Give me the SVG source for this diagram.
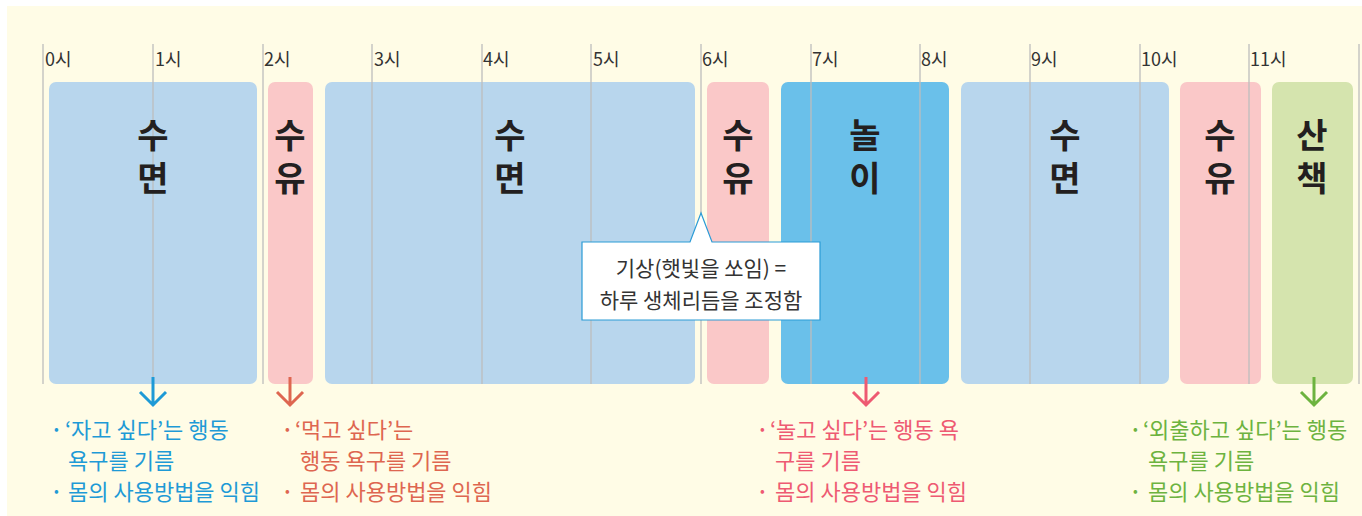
<svg xmlns="http://www.w3.org/2000/svg" width="1362" height="516" viewBox="0 0 1362 516">
<style>
.bg{fill:#FFFCE6}
.grid line{stroke:#BDBDBD;stroke-width:1.3}
.hour{font-family:"Noto Sans CJK KR","Noto Sans",sans-serif;font-size:18px;fill:#333}
.sleep{fill:#B8D6ED}
.feed{fill:#FAC8C8}
.play{fill:#6AC0EA}
.walk{fill:#D5E4AE}
.big{font-family:"Noto Sans CJK KR",sans-serif;font-size:34px;font-weight:700;fill:#231F20;text-anchor:middle}
.note{font-family:"Noto Sans CJK KR",sans-serif;font-size:22px}
.bul{font-family:"Noto Sans CJK KR",sans-serif;font-size:14px}
.call{font-family:"Noto Sans CJK KR",sans-serif;font-size:21px;fill:#333;text-anchor:middle}
.arr{fill:none;stroke-width:3;stroke-linecap:butt;stroke-linejoin:miter}
.c-blue{fill:#1E9AD6}
.c-red{fill:#DE6650}
.c-pink{fill:#EE5A72}
.c-green{fill:#6DB33F}
</style>
<rect class="bg" x="7" y="6" width="1355" height="510"/>

<g id="blocks">
<g id="sleep1"><rect class="sleep" x="49" y="82" width="208" height="302" rx="7"/></g>
<g id="feed1"><rect class="feed" x="268" y="82" width="45" height="302" rx="7"/></g>
<g id="sleep2"><rect class="sleep" x="325" y="82" width="370" height="302" rx="7"/></g>
<g id="feed2"><rect class="feed" x="707" y="82" width="62" height="302" rx="7"/></g>
<g id="play"><rect class="play" x="781" y="82" width="168" height="302" rx="7"/></g>
<g id="sleep3"><rect class="sleep" x="961" y="82" width="208" height="302" rx="7"/></g>
<g id="feed3"><rect class="feed" x="1180" y="82" width="81" height="302" rx="7"/></g>
<g id="walk"><rect class="walk" x="1272" y="82" width="81" height="302" rx="7"/></g>
</g>

<g id="timeline" class="grid">
<line x1="43" y1="44" x2="43" y2="384"/>
<line x1="153" y1="44" x2="153" y2="384"/>
<line x1="263" y1="44" x2="263" y2="384"/>
<line x1="372" y1="44" x2="372" y2="384"/>
<line x1="482" y1="44" x2="482" y2="384"/>
<line x1="591" y1="44" x2="591" y2="384"/>
<line x1="701" y1="44" x2="701" y2="384"/>
<line x1="811" y1="44" x2="811" y2="384"/>
<line x1="920" y1="44" x2="920" y2="384"/>
<line x1="1030" y1="44" x2="1030" y2="384"/>
<line x1="1140" y1="44" x2="1140" y2="384"/>
<line x1="1249" y1="44" x2="1249" y2="384"/>
<line x1="1359" y1="44" x2="1359" y2="384"/>
</g>
<g id="hours" class="hour">
<text x="45" y="66">0시</text>
<text x="155" y="66">1시</text>
<text x="264" y="66">2시</text>
<text x="374" y="66">3시</text>
<text x="483" y="66">4시</text>
<text x="593" y="66">5시</text>
<text x="702" y="66">6시</text>
<text x="812" y="66">7시</text>
<text x="921" y="66">8시</text>
<text x="1031" y="66">9시</text>
<text x="1141" y="66">10시</text>
<text x="1250" y="66">11시</text>
</g>

<g id="labels" class="big">
<text><tspan x="153" y="148">수</tspan><tspan x="153" dy="43">면</tspan></text>
<text><tspan x="290" y="148">수</tspan><tspan x="290" dy="43">유</tspan></text>
<text><tspan x="510" y="148">수</tspan><tspan x="510" dy="43">면</tspan></text>
<text><tspan x="738" y="148">수</tspan><tspan x="738" dy="43">유</tspan></text>
<text><tspan x="865" y="148">놀</tspan><tspan x="865" dy="43">이</tspan></text>
<text><tspan x="1065" y="148">수</tspan><tspan x="1065" dy="43">면</tspan></text>
<text><tspan x="1220" y="148">수</tspan><tspan x="1220" dy="43">유</tspan></text>
<text><tspan x="1312" y="148">산</tspan><tspan x="1312" dy="43">책</tspan></text>
</g>

<g id="callout">
<path d="M582,242 H690 L701,213 L712,242 H820 V320 H582 Z" fill="#FFFFFF" stroke="#2A9BD6" stroke-width="1.2"/>
<text class="call" x="701" y="276">기상(햇빛을 쏘임) =</text>
<text class="call" x="701" y="308">하루 생체리듬을 조정함</text>
</g>

<g id="connectors">
<path class="arr" stroke="#1E9AD6" d="M153,377 V405 M140,392 L153,405 L166,392"/>
<path class="arr" stroke="#DE6650" d="M290,377 V405 M277,392 L290,405 L303,392"/>
<path class="arr" stroke="#EE5A72" d="M866,377 V405 M853,392 L866,405 L879,392"/>
<path class="arr" stroke="#6DB33F" d="M1314,377 V405 M1301,392 L1314,405 L1327,392"/>
</g>

<g id="note-sleep" class="note c-blue">
<text class="bul" x="54" y="434">•</text>
<text x="65" y="438">‘자고 싶다’는 행동</text>
<text x="68" y="469">욕구를 기름</text>
<text class="bul" x="54" y="496">•</text>
<text x="68" y="500">몸의 사용방법을 익힘</text>
</g>
<g id="note-feed" class="note c-red">
<text class="bul" x="285" y="434">•</text>
<text x="295" y="438">‘먹고 싶다’는</text>
<text x="300" y="469">행동 욕구를 기름</text>
<text class="bul" x="285" y="496">•</text>
<text x="300" y="500">몸의 사용방법을 익힘</text>
</g>
<g id="note-play" class="note c-pink">
<text class="bul" x="760" y="434">•</text>
<text x="770" y="438">‘놀고 싶다’는 행동 욕</text>
<text x="775" y="469">구를 기름</text>
<text class="bul" x="760" y="496">•</text>
<text x="775" y="500">몸의 사용방법을 익힘</text>
</g>
<g id="note-walk" class="note c-green">
<text class="bul" x="1133" y="434">•</text>
<text x="1143" y="438">‘외출하고 싶다’는 행동</text>
<text x="1148" y="469">욕구를 기름</text>
<text class="bul" x="1133" y="496">•</text>
<text x="1148" y="500">몸의 사용방법을 익힘</text>
</g>
</svg>
